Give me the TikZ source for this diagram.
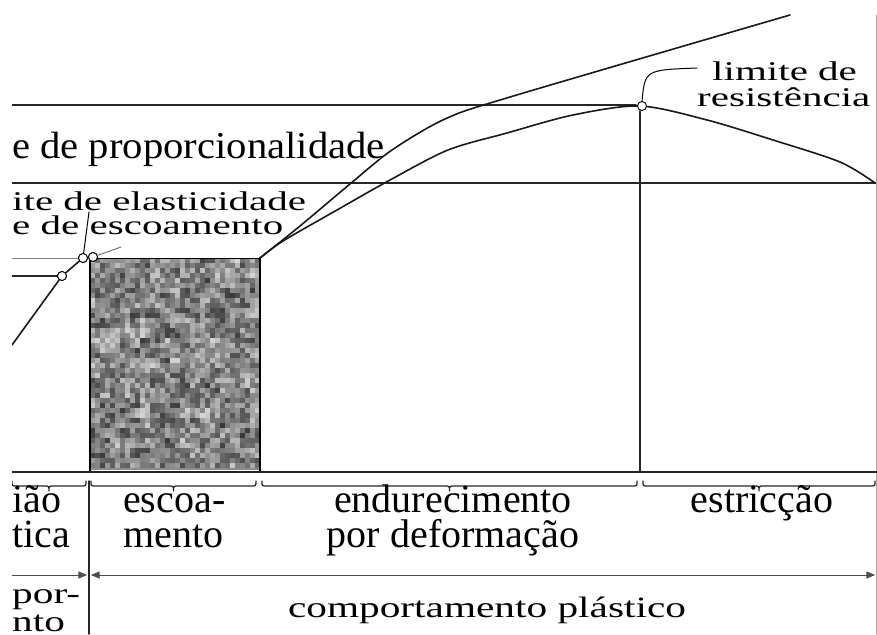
\documentclass[tikz,border=0pt]{standalone}
\usepackage{fontspec}
\setmainfont{Liberation Serif}
\newfontfamily\squatfont[FakeStretch=1.52]{Liberation Serif}
\newfontfamily\lowfont[FakeStretch=1.4]{Liberation Serif}
\newfontfamily\propfont[FakeStretch=1.07]{Liberation Serif}
\usetikzlibrary{arrows}

\begin{document}
\begin{tikzpicture}[line cap=round,line join=round,>=triangle 45,x=1pt,y=-1pt,
  ax/.style={line width=1.4pt,black!85},
  curve/.style={line width=1.6pt,black!90},
  pt/.style={circle,draw,fill=white,line width=0.9pt,inner sep=0pt,minimum size=9pt},
  toplbl/.style={anchor=base west,inner sep=0pt,font=\squatfont\fontsize{27}{29}\selectfont},
  tablbl/.style={anchor=base,inner sep=0pt,font=\fontsize{40}{42}\selectfont},
  lowlbl/.style={anchor=base,inner sep=0pt,font=\lowfont\fontsize{29.5}{31}\selectfont},
  brc/.style={line width=1.3pt,black!85}]
\useasboundingbox (0,0) rectangle (877,634);
\clip (12,0) rectangle (877,634);
% grid lines of the chart
\draw[ax] (12,105) -- (636,105);
\draw[ax] (12,183) -- (877,183);
\draw[ax] (640,111) -- (640,472);
\draw[black!50,line width=1pt] (12,258) -- (79,258);
\draw[ax,line width=2pt] (12,276) -- (57,276);
\draw[black!35,line width=1pt] (876,15) -- (876,634);
% micrograph of the yield zone
\fill[black!45] (90,258) rectangle (260,470);
\pgfmathsetseed{12}
\foreach \i in {0,...,16}
  \foreach \j in {0,...,20} {
    \pgfmathsetmacro\g{int(20+55*rnd)}
    \fill[black!\g] (90+10*\i,258+10*\j) rectangle +(10,10);
  }
\foreach \i in {0,...,33}
  \foreach \j in {0,...,41} {
    \pgfmathsetmacro\g{int(10+75*rnd)}
    \fill[black!\g,opacity=0.5] (90+5*\i,258+5*\j) rectangle +(5,5);
  }
\draw[line width=2.6pt] (90,258) -- (90,472);
\draw[line width=2.6pt] (260,258) -- (260,472);
\draw[line width=1pt] (96,258) -- (260,258);
% curves
\coordinate (o) at (12,345);
\coordinate (ys) at (260,258);
\node[pt] (pprop) at (62,276) {};
\node[pt] (pela) at (83,258) {};
\node[pt] (pesc) at (93,257) {};
\draw[curve] (o) -- (pprop) -- (pela);
\draw[curve] plot[smooth] coordinates {(260,258) (300,226) (350,184) (392,150) (445,119) (510,97) (790,15)};
\draw[curve] plot[smooth] coordinates {(260,258) (283,241) (337,210) (390,180) (448,150) (507,133) (573,115) (640,106) (707,120) (773,140) (840,162) (875,183)};
\node[pt] (pres) at (642,106) {};
\node[pt] (pela) at (83,258) {};
\node[pt] (pesc) at (93,257) {};
\node[pt] (pprop) at (62,276) {};
% leaders
\coordinate (ela) at (89,212);
\coordinate (esc) at (121,247);
\coordinate (rtip) at (697,68);
\draw[line width=1pt] (pela) -- (ela);
\draw[black!55,line width=1pt] (pesc) -- (esc);
\draw[line width=1pt] (pres.north) .. controls (645,70) .. (rtip);
% labels
\node[anchor=base west,inner sep=0pt,font=\propfont\fontsize{38}{40}\selectfont] (lprop) at (12,158) {e de proporcionalidade};
\node[toplbl] (lela) at (12,210) {ite de elasticidade};
\node[toplbl] (lesc) at (12,234) {e de escoamento};
\node[toplbl] (lres1) at (712,80) {limite de};
\node[toplbl] (lres2) at (697,106) {resistência};
% table below
\draw[ax,line width=2pt] (12,472) -- (877,472);
\foreach \a/\b in {12/86,91/256,262/637,643/875} {
  \pgfmathsetmacro\m{(\a+\b)/2}
  \draw[brc] (\a,481) .. controls (\a,486) .. (\a+5,486) -- (\m-5,486)
    .. controls (\m,486) .. (\m,491) .. controls (\m,486) .. (\m+5,486)
    -- (\b-5,486) .. controls (\b,486) .. (\b,481);
}
\draw[ax] (89,481) -- (89,634);
\draw[black!70,line width=1pt,->] (12,575) -- (87,575);
\draw[black!70,line width=1pt,<->] (91,575) -- (875,575);
\node[tablbl,anchor=base west] (treg1) at (12,512) {ião};
\node[tablbl,anchor=base west] (treg2) at (12,547) {tica};
\node[tablbl,anchor=base west] (tesc1) at (123,512) {escoa-};
\node[tablbl,anchor=base west] (tesc2) at (123,547) {mento};
\node[tablbl] (tend1) at (453,512) {endurecimento};
\node[tablbl] (tend2) at (453,547) {por deformação};
\node[tablbl] (testr) at (762,512) {estricção};
\node[lowlbl,anchor=base west] (tcomp1) at (12,603) {por-};
\node[lowlbl,anchor=base west] (tcomp2) at (12,631) {nto};
\node[lowlbl] (tplast) at (487,617) {comportamento plástico};
\end{tikzpicture}
\end{document}
